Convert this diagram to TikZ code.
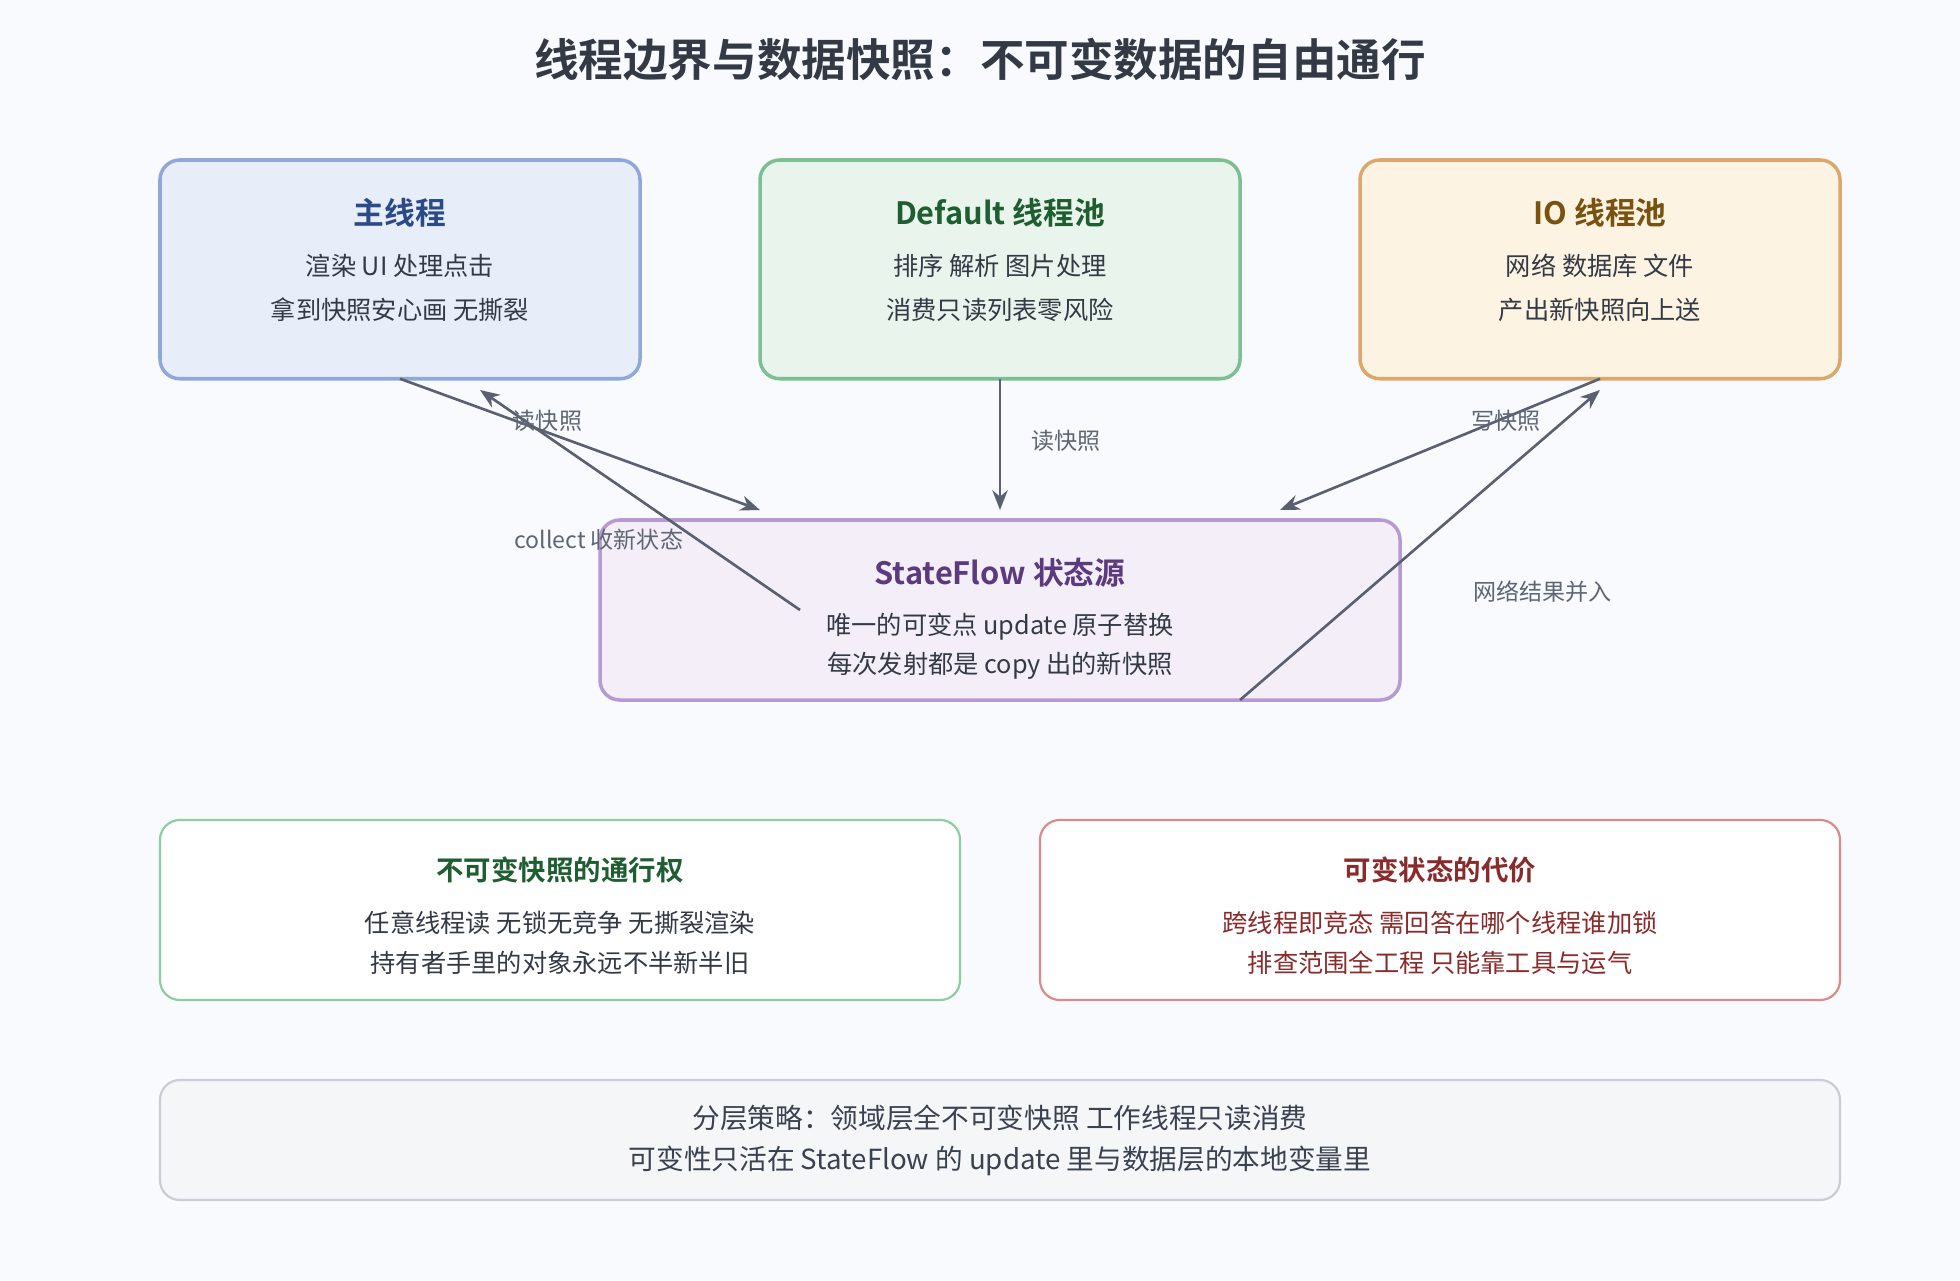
\documentclass[tikz,border=0pt]{standalone}
\usepackage{fontspec}
\setmainfont{Noto Sans CJK SC}[BoldFont={Noto Sans CJK SC Bold}]
\usetikzlibrary{arrows.meta}
\definecolor{bgc}{HTML}{F8FAFD}
\definecolor{arrc}{HTML}{5A6070}
\definecolor{lblc}{HTML}{5F6673}
\definecolor{txtc}{HTML}{333A45}
\definecolor{blueD}{HTML}{8FA8D8}\definecolor{blueF}{HTML}{E8EEF9}\definecolor{blueT}{HTML}{2B4A8A}
\definecolor{grnD}{HTML}{7DBF92}\definecolor{grnF}{HTML}{E9F5EC}\definecolor{grnT}{HTML}{1E5E30}
\definecolor{orgD}{HTML}{D9A86A}\definecolor{orgF}{HTML}{FDF3E3}\definecolor{orgT}{HTML}{7A5210}
\definecolor{purD}{HTML}{B89AD3}\definecolor{purF}{HTML}{F4EEF8}\definecolor{purT}{HTML}{5B3A7E}
\definecolor{grnL}{HTML}{8FCCA0}
\definecolor{redD}{HTML}{D98A8A}\definecolor{redT}{HTML}{8B2A2A}
\definecolor{gryD}{HTML}{C9CED6}\definecolor{gryF}{HTML}{F5F6F8}\definecolor{gryT}{HTML}{3A4250}
\begin{document}
\begin{tikzpicture}
        [
        x=0.02cm, y=-0.02cm,
        box/.style={draw=#1, line width=1.6pt, rounded corners=9pt},
        head/.style={font=\fontsize{14}{16}\selectfont\bfseries, text=#1},
        body/.style={font=\fontsize{11.5}{13}\selectfont, text=#1},
        lbl/.style={font=\fontsize{10.5}{12}\selectfont, text=lblc},
        arrow/.style={-{Stealth[length=9pt,width=7pt]}, arrc, line width=1.2pt}
        ]
        \fill[bgc] (0,0) rectangle (1568,1024);

        % Title
        \node[font=\fontsize{20.3}{24}\selectfont\bfseries, text=txtc] (title) at (784,48) {线程边界与数据快照：不可变数据的自由通行};

        % Thread boxes
        \draw[box=blueD, fill=blueF] (128,128) rectangle (512,303);
        \draw[box=grnD, fill=grnF] (608,128) rectangle (992,303);
        \draw[box=orgD, fill=orgF] (1088,128) rectangle (1472,303);
        \draw[box=purD, fill=purF] (480,416) rectangle (1120,560);

        \node[head=blueT] (mainT) at (320,170) {主线程};
        \node[body=txtc] (mainA) at (320,213) {渲染 UI 处理点击};
        \node[body=txtc] (mainB) at (320,248) {拿到快照安心画 无撕裂};
        \node[head=grnT] (defT) at (800,170) {Default 线程池};
        \node[body=txtc] (defA) at (800,213) {排序 解析 图片处理};
        \node[body=txtc] (defB) at (800,248) {消费只读列表零风险};
        \node[head=orgT] (ioT) at (1280,170) {IO 线程池};
        \node[body=txtc] (ioA) at (1280,213) {网络 数据库 文件};
        \node[body=txtc] (ioB) at (1280,248) {产出新快照向上送};
        \node[head=purT] (sfT) at (800,458) {StateFlow 状态源};
        \node[body=txtc] (sfA) at (800,501) {唯一的可变点 update 原子替换};
        \node[body=txtc] (sfB) at (800,533) {每次发射都是 copy 出的新快照};

        % Anchor points
        \coordinate (mainS) at (320,303);
        \coordinate (mainR) at (384,312);
        \coordinate (defS) at (800,303);
        \coordinate (ioS) at (1280,303);
        \coordinate (ioR) at (1280,312);
        \coordinate (sfL) at (608,408);
        \coordinate (sfM) at (800,408);
        \coordinate (sfR) at (1024,408);
        \coordinate (sfIn) at (640,488);
        \coordinate (sfBot) at (992,560);

        % Arrows
        \draw[arrow] (mainS) -- (sfL);
        \draw[arrow] (sfIn) -- (mainR);
        \draw[arrow] (defS) -- (sfM);
        \draw[arrow] (ioS) -- (sfR);
        \draw[arrow] (sfBot) -- (ioR);
        \node[lbl] (l1) at (438,337) {读快照};
        \node[lbl] (l2) at (479,432) {collect 收新状态};
        \node[lbl] (l3) at (853,353) {读快照};
        \node[lbl] (l4) at (1205,337) {写快照};
        \node[lbl] (l5) at (1234,473) {网络结果并入};

        % Comparison boxes
        \draw[box=grnL, line width=1pt, fill=white] (128,656) rectangle (768,800);
        \draw[box=redD, line width=1pt, fill=white] (832,656) rectangle (1472,800);
        \node[head=grnT, font=\fontsize{12.5}{14}\selectfont\bfseries] (goodT) at (448,696) {不可变快照的通行权};
        \node[body=txtc] (goodA) at (448,738) {任意线程读 无锁无竞争 无撕裂渲染};
        \node[body=txtc] (goodB) at (448,770) {持有者手里的对象永远不半新半旧};
        \node[head=redT, font=\fontsize{12.5}{14}\selectfont\bfseries] (badT) at (1152,696) {可变状态的代价};
        \node[body=redT] (badA) at (1152,738) {跨线程即竞态 需回答在哪个线程谁加锁};
        \node[body=redT] (badB) at (1152,770) {排查范围全工程 只能靠工具与运气};

        % Strategy box
        \draw[box=gryD, line width=1pt, fill=gryF] (128,864) rectangle (1472,960);
        \node[body=gryT, font=\fontsize{12.6}{14}\selectfont] (stratA) at (800,894) {分层策略：领域层全不可变快照 工作线程只读消费};
        \node[body=gryT, font=\fontsize{12.6}{14}\selectfont] (stratB) at (800,929) {可变性只活在 StateFlow 的 update 里与数据层的本地变量里};
    \end{tikzpicture}
\end{document}
